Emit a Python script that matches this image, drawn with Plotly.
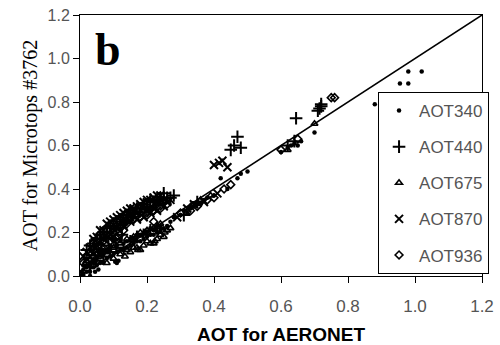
import plotly.graph_objects as go

# ---- data ----
aot340_x = [0.01,0.02,0.03,0.04,0.05,0.06,0.07,0.08,0.09,0.10,0.11,0.12,0.13,0.14,0.15,0.16,0.17,0.18,0.19,0.20,
            0.21,0.22,0.23,0.24,0.25,0.26,0.105,0.11,0.115,0.02,0.03,0.05,0.07,0.09,0.11,0.13,0.15,0.17,0.19,0.21,0.23,
            0.01,0.02,0.03,0.04,0.05,0.06,0.07,0.08,0.09,0.10,0.12,0.14,0.16,0.18,0.20,0.22,0.24,0.005,0.01,0.02,0.04,0.06,
            0.005,0.01,0.015,0.03,0.045,0.055,
            0.27,0.28,0.30,0.31,0.32,0.33,0.34,0.35,0.36,0.37,0.38,0.40,0.42,0.44,0.47,0.48,0.50,
            0.60,0.62,0.63,0.64,0.65,0.66,0.70,0.88,0.955,0.98,0.98,1.02]
aot340_y = [0.01,0.02,0.02,0.04,0.05,0.06,0.06,0.08,0.09,0.10,0.11,0.12,0.12,0.13,0.14,0.15,0.16,0.16,0.17,0.18,
            0.19,0.19,0.20,0.21,0.22,0.23,0.065,0.06,0.07,0.05,0.06,0.08,0.10,0.12,0.14,0.15,0.17,0.19,0.20,0.22,0.23,
            0.03,0.04,0.05,0.06,0.09,0.10,0.12,0.12,0.14,0.16,0.16,0.16,0.17,0.19,0.20,0.21,0.23,0.005,0.05,0.08,0.10,0.12,
            0.02,0.0,0.08,0.0,0.02,0.03,
            0.25,0.27,0.28,0.30,0.29,0.31,0.32,0.33,0.33,0.35,0.36,0.37,0.45,0.40,0.45,0.47,0.48,
            0.57,0.59,0.60,0.61,0.60,0.62,0.66,0.79,0.885,0.885,0.94,0.94]

aot440_x = [0.02,0.04,0.06,0.08,0.10,0.12,0.14,0.16,0.18,0.20,0.22,0.24,0.26,0.28,0.25,
            0.03,0.05,0.07,0.09,0.11,0.13,0.15,0.17,0.19,0.21,0.23,0.25,0.27,
            0.03,0.05,0.07,0.09,0.11,0.13,0.15,0.17,0.19,0.21,0.23,
            0.045,0.065,0.085,0.105,0.125,
            0.45,0.46,0.47,0.48,0.645,0.71,0.72,0.72,0.715,0.62,0.64,0.35,0.31]
aot440_y = [0.12,0.15,0.19,0.22,0.24,0.26,0.28,0.29,0.31,0.32,0.34,0.35,0.36,0.37,0.38,
            0.14,0.17,0.20,0.23,0.25,0.27,0.30,0.31,0.33,0.35,0.35,0.36,0.36,
            0.04,0.07,0.09,0.11,0.13,0.13,0.16,0.18,0.19,0.21,0.22,
            0.08,0.11,0.14,0.17,0.19,
            0.58,0.60,0.64,0.59,0.725,0.76,0.79,0.78,0.77,0.60,0.62,0.34,0.28]

aot675_x = [0.02,0.03,0.05,0.06,0.07,0.08,0.09,0.10,0.11,0.12,0.13,0.14,0.15,0.16,0.17,0.18,0.19,0.20,0.21,0.22,0.23,0.24,
            0.04,0.06,0.08,0.10,0.12,0.14,0.16,0.18,0.20,0.22,0.24,
            0.08,0.10,0.12,0.134,0.16,0.173,0.20,0.223,0.24,0.253,
            0.14,0.15,0.17,0.18,0.19,0.21,0.22,0.23,0.25,0.26,0.27,
            0.33,0.36,0.39,0.62,0.70]
aot675_y = [0.07,0.10,0.13,0.15,0.17,0.18,0.20,0.21,0.22,0.23,0.24,0.25,0.26,0.27,0.28,0.29,0.30,0.31,0.31,0.32,0.33,0.34,
            0.07,0.09,0.11,0.13,0.15,0.17,0.18,0.20,0.21,0.22,0.24,
            0.06,0.08,0.10,0.09,0.13,0.12,0.16,0.16,0.19,0.20,
            0.12,0.11,0.13,0.12,0.14,0.15,0.15,0.17,0.18,0.21,0.22,
            0.32,0.35,0.37,0.58,0.70]

aot870_x = [0.01,0.02,0.03,0.04,0.05,0.06,0.07,0.08,0.09,0.10,0.11,0.12,0.13,0.14,0.15,0.16,0.17,0.18,0.19,0.20,
            0.21,0.22,0.23,0.24,0.20,0.22,0.17,0.15,0.13,
            0.03,0.05,0.07,0.09,0.11,0.13,0.15,0.17,0.19,0.21,0.23,0.25,0.26,0.27,
            0.40,0.415,0.425,0.44,0.29,0.32,0.34,0.37,0.41]
aot870_y = [0.09,0.11,0.13,0.17,0.18,0.21,0.21,0.24,0.25,0.26,0.27,0.28,0.29,0.30,0.31,0.31,0.32,0.33,0.34,0.35,
            0.35,0.36,0.37,0.37,0.30,0.31,0.29,0.28,0.26,
            0.09,0.14,0.17,0.19,0.22,0.23,0.25,0.26,0.27,0.29,0.30,0.32,0.34,0.35,
            0.51,0.52,0.53,0.50,0.27,0.31,0.33,0.34,0.38]

aot936_x = [0.02,0.04,0.05,0.07,0.09,0.11,0.13,0.15,0.17,0.19,0.21,0.23,0.25,
            0.06,0.08,0.10,0.12,0.22,
            0.01,0.02,0.03,0.04,0.05,0.06,0.07,0.08,0.09,0.10,0.11,0.12,0.13,0.14,0.16,0.18,0.20,0.22,0.24,0.26,
            0.30,0.33,0.35,0.38,0.40,0.43,0.45,0.60,0.65,0.75,0.76]
aot936_y = [0.09,0.12,0.15,0.18,0.21,0.23,0.25,0.27,0.30,0.31,0.33,0.34,0.35,
            0.11,0.14,0.17,0.19,0.25,
            0.06,0.06,0.11,0.09,0.11,0.16,0.13,0.19,0.16,0.20,0.18,0.22,0.21,0.24,0.26,0.27,0.28,0.30,0.31,0.33,
            0.29,0.30,0.32,0.35,0.36,0.40,0.42,0.58,0.63,0.82,0.82]

line_x = [0.0, 1.2]
line_y = [0.0, 1.2]

tick_vals = [0.0, 0.2, 0.4, 0.6, 0.8, 1.0, 1.2]
tick_text = ["0.0", "0.2", "0.4", "0.6", "0.8", "1.0", "1.2"]

series = [
    ("AOT340", aot340_x, aot340_y, dict(symbol="circle", size=4.5, color="black")),
    ("AOT440", aot440_x, aot440_y, dict(symbol="cross-thin-open", size=9, color="black",
                                        line=dict(color="black", width=2))),
    ("AOT675", aot675_x, aot675_y, dict(symbol="triangle-up-open", size=6, color="black",
                                        line=dict(color="black", width=1.6))),
    ("AOT870", aot870_x, aot870_y, dict(symbol="x-thin-open", size=8, color="black",
                                        line=dict(color="black", width=2))),
    ("AOT936", aot936_x, aot936_y, dict(symbol="diamond-open", size=6, color="black",
                                        line=dict(color="black", width=1.6))),
]

fig = go.Figure()
fig.add_trace(go.Scatter(x=line_x, y=line_y, mode="lines",
                         line=dict(color="black", width=1.5), showlegend=False, hoverinfo="skip"))
for name, xs, ys, mk in series:
    fig.add_trace(go.Scatter(x=xs, y=ys, mode="markers", name=name, marker=mk,
                             legendgroup=name))

axis_common = dict(
    range=[0, 1.2], tickvals=tick_vals, ticktext=tick_text, automargin=False,
    showline=True, linecolor="black", linewidth=1, mirror=True,
    ticks="outside", ticklen=6, tickcolor="black", showgrid=False, zeroline=False,
)

fig.update_layout(
    width=500, height=345,
    margin=dict(l=80, r=17, t=15, b=69),
    paper_bgcolor="white", plot_bgcolor="white",
    xaxis=dict(**axis_common,
               ticklabelstandoff=9,
               tickfont=dict(family="Liberation Sans, Arial", size=17, color="#555555"),
               title=dict(text="<b>AOT for AERONET</b>",
                          font=dict(family="Liberation Sans, Arial", size=19, color="black"),
                          standoff=16)),
    yaxis=dict(**axis_common,
               tickfont=dict(family="Liberation Sans, Arial", size=16, color="#555555"),
               title=dict(text="AOT for Microtops #3762",
                          font=dict(family="Liberation Serif, Times New Roman", size=20, color="black"),
                          standoff=4)),
    legend=dict(x=1.015, xanchor="right", y=0.705, yanchor="top",
                bordercolor="black", borderwidth=1, bgcolor="white",
                font=dict(family="Liberation Sans, Arial", size=17, color="#555555"),
                tracegroupgap=11, itemwidth=30),
    annotations=[dict(x=0.083, y=1.04, xref="x", yref="y", text="<b>b</b>", showarrow=False,
                      font=dict(family="Liberation Serif, Times New Roman", size=46, color="black"))],
)

fig.write_html("out.html")
